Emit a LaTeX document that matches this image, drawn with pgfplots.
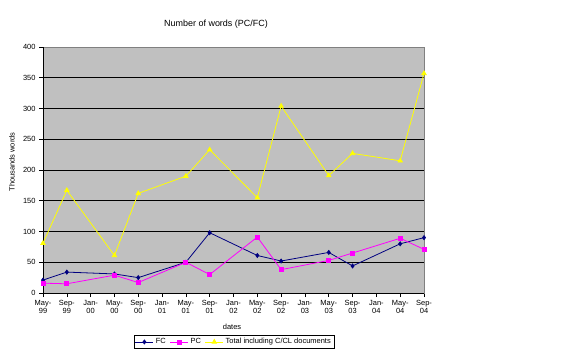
\documentclass[border=0pt]{standalone}
\usepackage{pgfplots}
\pgfplotsset{compat=1.18}
\usepackage{fontspec}
\setmainfont{Liberation Sans}
\definecolor{plotgray}{RGB}{192,192,192}
\definecolor{fcblue}{RGB}{0,0,128}
\definecolor{pcmag}{RGB}{255,0,255}
\definecolor{totyel}{RGB}{255,255,0}
\begin{document}
\begin{tikzpicture}[x=1bp,y=1bp]
\path[use as bounding box] (0,0) rectangle (578,356);
\begin{axis}[
  at={(43bp,63bp)}, anchor=south west,
  scale only axis, width=381bp, height=246bp,
  xmin=0, xmax=16, ymin=0, ymax=400,
  ytick={0,50,...,400},
  xtick={0,...,16},
  xticklabels={May-\\99,Sep-\\99,Jan-\\00,May-\\00,Sep-\\00,Jan-\\01,May-\\01,Sep-\\01,Jan-\\02,May-\\02,Sep-\\02,Jan-\\03,May-\\03,Sep-\\03,Jan-\\04,May-\\04,Sep-\\04},
  xticklabel style={align=center, font=\fontsize{7.5}{8}\selectfont},
  yticklabel style={font=\fontsize{7.5}{8}\selectfont},
  /pgf/number format/assume math mode=true,
  axis background/.style={fill=plotgray},
  ymajorgrids, grid style={black, line width=0.8pt},
  axis line style={draw=gray, line width=0.6pt},
  tick align=outside, major tick length=4bp,
  tick style={black, line width=0.6pt},
  xtick pos=bottom, ytick pos=left,
  legend columns=3,
  legend style={at={(0.501,-0.199)}, anchor=center, draw=black, fill=white,
    font=\fontsize{7.5}{8}\selectfont, inner sep=1pt,
    /tikz/every even column/.append style={column sep=2bp}},
  legend image code/.code={\draw[mark repeat=2,mark phase=2,#1] plot coordinates {(0bp,0bp) (9bp,0bp) (18bp,0bp)};},
]
\addplot[fcblue, line width=0.8pt, mark=diamond*, mark size=2bp, mark options={fill=fcblue}] coordinates {
(0,21) (1,34) (3,31) (4,25) (6,50) (7,98) (9,61) (10,52) (12,66) (13,44) (15,80) (16,90)};
\addlegendentry{FC}
\addplot[pcmag, line width=0.8pt, mark=square*, mark size=2bp, mark options={fill=pcmag}] coordinates {
(0,16) (1,15) (3,29) (4,17) (6,50) (7,30) (9,91) (10,38) (12,53) (13,65) (15,89) (16,71)};
\addlegendentry{PC}
\addplot[totyel, line width=0.8pt, mark=triangle*, mark size=2.5bp, mark options={fill=totyel}] coordinates {
(0,81) (1,167) (3,61) (4,162) (6,190) (7,233) (9,155) (10,304) (12,191) (13,227) (15,215) (16,357)};
\addlegendentry{Total including C/CL documents}
\draw[black, line width=0.8pt] (axis cs:0,0) -- (axis cs:0,400);
\draw[black, line width=0.8pt] (axis cs:0,0) -- (axis cs:16,0);
\end{axis}
\node[font=\fontsize{9}{10}\selectfont] at (216,332) {Number of words (PC/FC)};
\node[font=\fontsize{7.5}{8}\selectfont] at (232,29) {dates};
\node[font=\fontsize{7.5}{8}\selectfont, rotate=90] at (12,194) {Thousands words};
\end{tikzpicture}
\end{document}
